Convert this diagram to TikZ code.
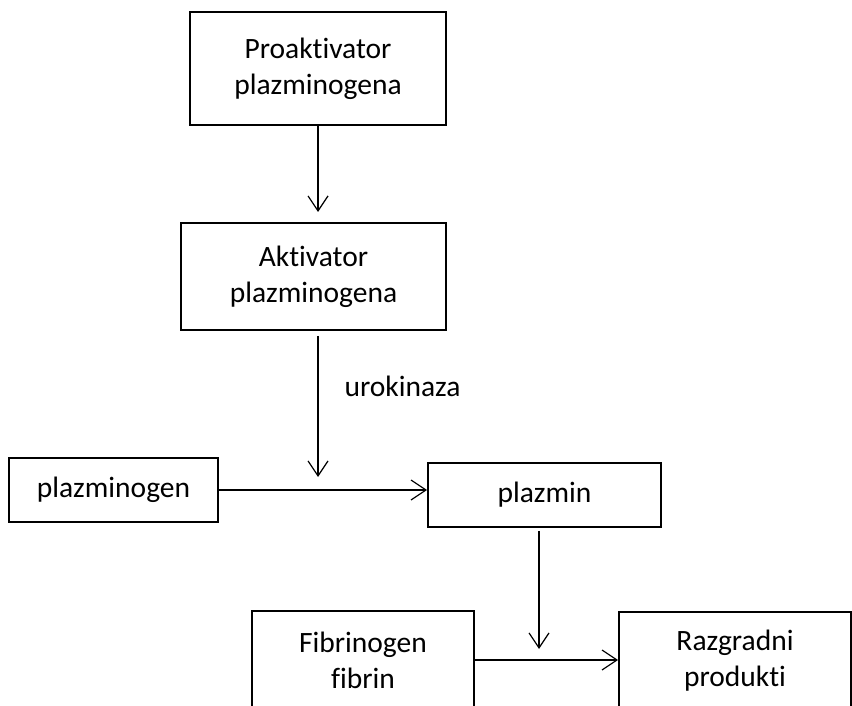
\documentclass[tikz,border=0pt]{standalone}
\usepackage{fontspec}
\setmainfont{Carlito}[Ligatures={NoCommon,NoContextual}]
\usetikzlibrary{arrows.meta,calc}
\begin{document}
\begin{tikzpicture}[x=1pt,y=-1pt,
  box/.style={draw, line width=1.8pt, rectangle, inner sep=0pt, align=center,
    font=\fontsize{29.5}{36}\selectfont},
  conn/.style={line width=1.2pt, -{Straight Barb[length=15pt,width=20pt]}},
  lbl/.style={font=\fontsize{29.5}{36}\selectfont, inner sep=0pt}]
\useasboundingbox (0,0) rectangle (852,706);
\clip (0,0) rectangle (852,706);
\node[box, minimum width=256pt, minimum height=113pt] (pro) at (318,68.5) {Proaktivator\\plazminogena};
\node[box, minimum width=265pt, minimum height=107pt] (akt) at (313.5,276.5) {Aktivator\\plazminogena};
\node[box, minimum width=209pt, minimum height=64pt] (plg) at (113.5,490) {plazminogen};
\node[box, minimum width=233pt, minimum height=64pt] (plm) at (544.5,495) {plazmin};
\node[box, minimum width=222pt, minimum height=98pt] (fib) at (363,660) {Fibrinogen\\fibrin};
\node[box, minimum width=232pt, minimum height=98pt] (raz) at (735,661) {Razgradni\\produkti};
\node[lbl, anchor=base] (uro) at (402.5,396) {urokinaza};
\coordinate (t1) at (318,212);
\coordinate (t2) at (318,477);
\coordinate (t3) at (539,649);
\draw[conn] (t1 |- pro.south) -- (t1);
\draw[conn] ($(t2 |- akt.south)+(0,5)$) -- (t2);
\draw[conn] (plg.east) -- (plg.east -| plm.west);
\draw[conn] ($(t3 |- plm.south)+(0,3)$) -- (t3);
\draw[conn] (fib.east) -- (fib.east -| raz.west);
\end{tikzpicture}
\end{document}
